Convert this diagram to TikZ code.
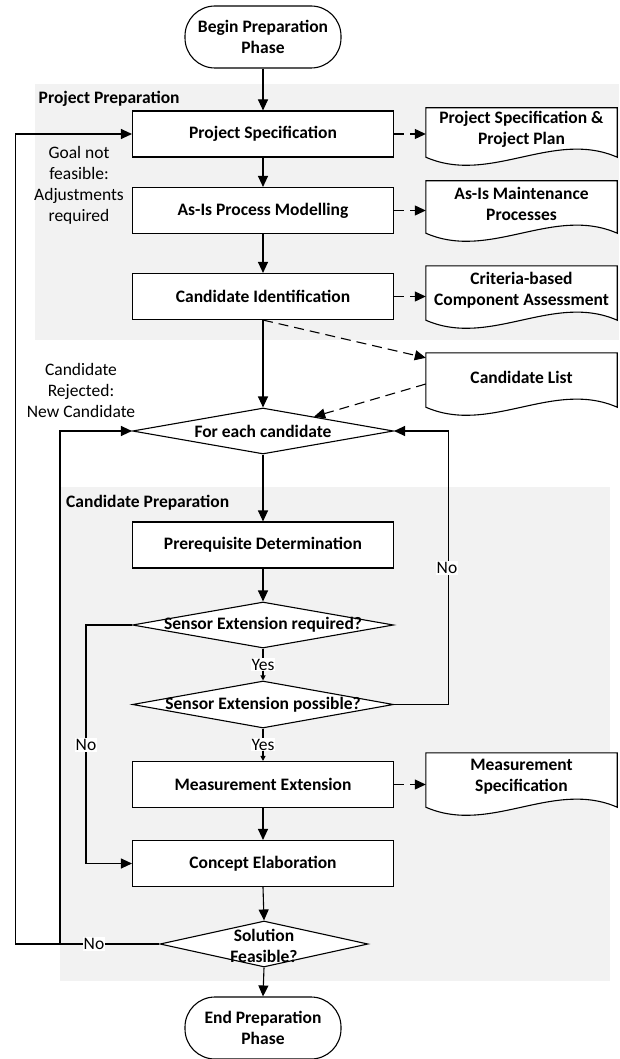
\documentclass[tikz,border=0pt]{standalone}
\usepackage{fontspec}
\setmainfont{Carlito}
\usetikzlibrary{arrows.meta,calc,shapes.geometric,backgrounds}
\definecolor{regiongray}{HTML}{F2F2F2}
\newcommand{\myfs}{\fontsize{17.5}{21}\selectfont}
\newcommand{\docoutline}[1]{%
  \begin{pgfonlayer}{background}
  \path[docline] ($(#1.south west)+(0,3)$) -- ($(#1.north west)+(0,3)$) -- ($(#1.north east)+(0,3)$) -- ($(#1.south east)+(0,3)$) .. controls +(-64,-28) and +(64,28) .. ($(#1.south west)+(0,3)$) -- cycle;
  \end{pgfonlayer}}
\begin{document}
\begin{tikzpicture}[x=1pt,y=-1pt,
  every node/.style={font=\myfs},
  ln/.style={line width=1.1pt},
  box/.style={ln, draw, fill=white, rectangle, minimum width=261pt, minimum height=46pt, inner sep=0pt, font=\myfs\bfseries},
  term/.style={ln, draw, fill=white, rectangle, rounded corners=30pt, minimum width=156pt, minimum height=62pt, inner sep=0pt, align=center, font=\myfs\bfseries},
  dia/.style={ln, draw, fill=white, diamond, inner sep=0pt},
  diatext/.style={font=\myfs\bfseries, align=center, inner sep=0pt},
  docbox/.style={minimum width=191pt, inner sep=0pt, align=center, font=\myfs\bfseries},
  docline/.style={ln, draw, fill=white},
  arr/.style={ln, -{Triangle[length=11pt,width=10pt]}},
  sarr/.style={ln, -{Triangle[length=5pt,width=5pt]}},
  darr/.style={arr, dash pattern=on 10pt off 6pt},
  lbl/.style={fill=white, inner sep=1pt, font=\myfs},
  region/.style={fill=regiongray}
]
\useasboundingbox (0,0) rectangle (619,1059);
\begin{pgfonlayer}{background}
\fill[region] (35,84) rectangle (619,340);
\fill[region] (60,487) rectangle (610,981);
\end{pgfonlayer}

\node[anchor=west, inner sep=0pt, font=\myfs\bfseries] (pp) at (38.5,99) {Project Preparation};
\node[anchor=west, inner sep=0pt, font=\myfs\bfseries] (cp) at (66,503) {Candidate Preparation};

\node[term] (begin) at (263,37) {Begin Preparation\\Phase};
\node[box] (ps) at (263,134) {Project Specification};
\node[box] (asis) at (263,210.5) {As-Is Process Modelling};
\node[box] (ci) at (263,296.5) {Candidate Identification};
\node[dia, minimum width=261pt, minimum height=46pt] (fe) at (263,431) {};
\node[diatext] (fet) at (fe) {For each candidate};
\node[box] (pd) at (263,545) {Prerequisite Determination};
\node[dia, minimum width=261pt, minimum height=46pt] (sr) at (263,625) {};
\node[diatext] (srt) at (sr) {Sensor Extension required?};
\node[dia, minimum width=261pt, minimum height=47pt] (sp) at (263,704.5) {};
\node[diatext] (spt) at (sp) {Sensor Extension possible?};
\node[box] (me) at (263,784.5) {Measurement Extension};
\node[box] (ce) at (263,863.5) {Concept Elaboration};
\node[dia, minimum width=208pt, minimum height=46pt] (sol) at (264,944) {};
\node[diatext] (solt) at ($(sol)+(0,2)$) {Solution\\Feasible?};
\node[term] (end) at (263,1028) {End Preparation\\Phase};

\node[docbox, minimum height=49pt] (d1) at (521.5,129.5) {Project Specification \&\\Project Plan};
\node[docbox, minimum height=52pt] (d2) at (521.5,204) {As-Is Maintenance\\Processes};
\node[docbox, minimum height=54pt] (d3) at (521.5,290) {Criteria-based\\Component Assessment};
\node[docbox, minimum height=54pt] (cl) at (521.5,377) {Candidate List};
\node[docbox, minimum height=54pt] (ms) at (521.5,777) {Measurement\\Specification};
\docoutline{d1}
\docoutline{d2}
\docoutline{d3}
\docoutline{cl}
\docoutline{ms}

\node[align=center] (gnf) at (79,185) {Goal not\\feasible:\\Adjustments\\required};
\node[align=center] (crn) at (81,390) {Candidate\\Rejected:\\New Candidate};

\draw[arr] (begin.south) -- (ps.north);
\draw[arr] (ps.south) -- (asis.north);
\draw[arr] (asis.south) -- (ci.north);
\draw[arr] (ci.south) -- (fe.north);
\draw[arr] (fe.south) -- (pd.north);
\draw[arr] (pd.south) -- (sr.north);
\draw[sarr] (sr.south) -- node[lbl] (y1) {Yes} (sp.north);
\draw[sarr] (sp.south) -- node[lbl] (y2) {Yes} (me.north);
\draw[arr] (me.south) -- (ce.north);
\draw[arr] (ce.south) -- (sol.north);
\draw[arr] (sol.south) -- (end.north);

\draw[darr] (ps.east) -- (ps.east -| d1.west);
\draw[darr] (asis.east) -- (asis.east -| d2.west);
\draw[darr] (ci.east) -- (ci.east -| d3.west);
\draw[darr] (me.east) -- (me.east -| ms.west);
\draw[darr] (ci.south) -- ($(cl.north west)+(0,8)$);
\draw[darr] ($(cl.west)+(0,7)$) -- ($(fe.north)!0.39!(fe.east)$);

\draw[arr] (sp.east) -- ++(54,0) |- (fe.east);
\node[lbl] (n1) at (447,568) {No};
\draw[arr] (sr.west) -- ++(-46,0) |- (ce.west);
\node[lbl] (n2) at (86,745) {No};
\coordinate (j) at (60,944);
\draw[arr] (sol.west) -- ++(-144,0) |- (ps.west);
\draw[arr] (j) |- (fe.west);
\node[lbl] (n3) at (94,944) {No};
\end{tikzpicture}
\end{document}
